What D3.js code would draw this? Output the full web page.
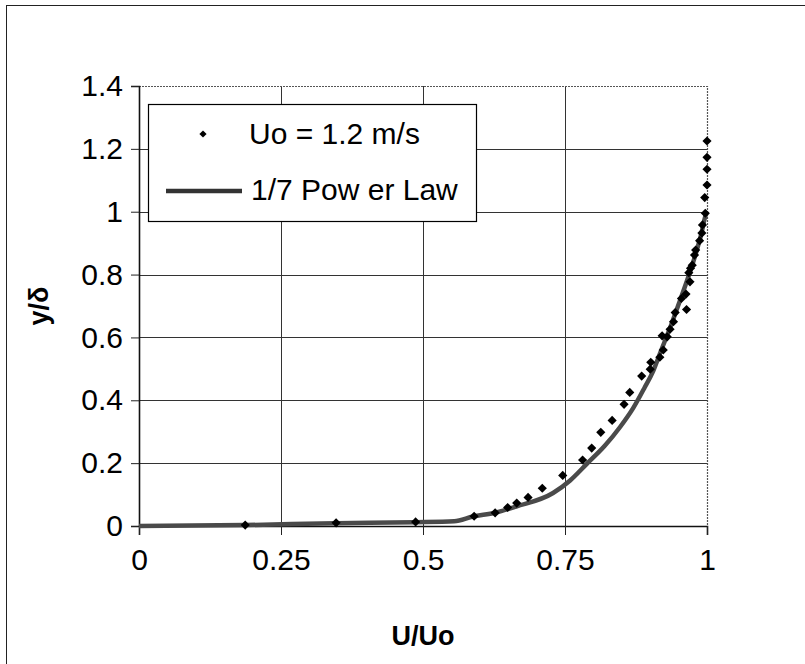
<!DOCTYPE html>
<html>
<head>
<meta charset="utf-8">
<script src="https://cdn.jsdelivr.net/npm/d3@7"></script>
<style>
  body { margin: 0; background: #fff; }
  svg { display: block; font-family: "Liberation Sans", Arial, sans-serif; }
</style>
</head>
<body>
<svg width="805" height="664"></svg>
<script>
// measured profile, Uo = 1.2 m/s
var measU = [1.0, 1.0, 1.0, 1.0, 0.996, 0.997, 0.992, 0.991, 0.987, 0.980, 0.978, 0.974, 0.971,
  0.968, 0.970, 0.963, 0.955, 0.964, 0.944, 0.941, 0.935, 0.921, 0.930, 0.923, 0.917, 0.901, 0.900, 0.885,
  0.864, 0.854, 0.833, 0.813, 0.797, 0.781, 0.746,
  0.710, 0.685, 0.665, 0.649, 0.627, 0.590,
  0.487, 0.347, 0.187];
var measY = [1.225, 1.173, 1.135, 1.085, 1.045, 0.995, 0.958, 0.932, 0.908, 0.878, 0.862, 0.830, 0.820,
  0.806, 0.777, 0.738, 0.724, 0.689, 0.679, 0.650, 0.626, 0.605, 0.602, 0.560, 0.537, 0.521, 0.499, 0.477,
  0.425, 0.387, 0.336, 0.298, 0.248, 0.210, 0.161,
  0.120, 0.091, 0.073, 0.059, 0.042, 0.031,
  0.013, 0.010, 0.003];

// 1/7 power law curve
var lawU = [0, 0.187, 0.347, 0.486, 0.555, 0.588, 0.627, 0.664, 0.729, 0.759, 0.788, 0.820, 0.847,
  0.870, 0.890, 0.905, 0.917, 0.938, 0.952, 0.970, 0.980, 0.990, 0.997, 1.0];
var lawY = [0, 0.003, 0.009, 0.012, 0.015, 0.030, 0.042, 0.062, 0.105, 0.145, 0.197, 0.255, 0.315,
  0.375, 0.440, 0.492, 0.548, 0.645, 0.715, 0.808, 0.865, 0.930, 0.985, 1.0];

var xTicks = [0, 0.25, 0.5, 0.75, 1];
var yTicks = [0, 0.2, 0.4, 0.6, 0.8, 1, 1.2, 1.4];

var svg = d3.select("svg");
var plotLeft = 139, plotRight = 707, plotTop = 86, plotBottom = 526;

var x = d3.scaleLinear().domain([0, 1]).range([plotLeft, plotRight]);
var y = d3.scaleLinear().domain([0, 1.4]).range([plotBottom, plotTop]);

// outer chart frame (only left/top edges are inside the picture)
svg.append("rect")
  .attr("x", 6.5).attr("y", 5.5)
  .attr("width", 900).attr("height", 900)
  .attr("fill", "none").attr("stroke", "#222").attr("stroke-width", 1);

// grid
var grid = svg.append("g").attr("stroke", "#333").attr("stroke-width", 1);
grid.selectAll(".h").data(yTicks.slice(1, -1)).enter().append("line")
  .attr("x1", plotLeft).attr("x2", plotRight)
  .attr("y1", function(d) { return Math.round(y(d)) + 0.5; })
  .attr("y2", function(d) { return Math.round(y(d)) + 0.5; });
grid.selectAll(".v").data(xTicks.slice(1, -1)).enter().append("line")
  .attr("y1", plotTop).attr("y2", plotBottom)
  .attr("x1", function(d) { return Math.round(x(d)) + 0.5; })
  .attr("x2", function(d) { return Math.round(x(d)) + 0.5; });

// plot border (dotted top/right)
svg.append("path")
  .attr("d", "M" + plotLeft + "," + (plotTop + 0.5) + "H" + (plotRight + 0.5) + "V" + plotBottom)
  .attr("fill", "none").attr("stroke", "#555").attr("stroke-width", 1.2)
  .attr("stroke-dasharray", "2,1");

// axes
var xAxis = d3.axisBottom(x).tickValues(xTicks).tickSize(9).tickPadding(14)
  .tickFormat(function(d) { return String(d); });
var gx = svg.append("g").attr("transform", "translate(0," + plotBottom + ")").call(xAxis);
var yAxis = d3.axisLeft(y).tickValues(yTicks).tickSize(8).tickPadding(8)
  .tickFormat(function(d) { return String(d); });
var gy = svg.append("g").attr("transform", "translate(" + plotLeft + ",0)").call(yAxis);

[gx, gy].forEach(function(g) {
  g.select(".domain").attr("stroke", "#111").attr("stroke-width", 1.6);
  g.selectAll(".tick line").attr("stroke", "#222");
  g.selectAll(".tick text")
    .attr("font-family", "Liberation Sans, Arial, sans-serif")
    .attr("font-size", "30px").attr("fill", "#000");
});

// power law line
var line = d3.line()
  .x(function(d) { return x(d[0]); })
  .y(function(d) { return y(d[1]); })
  .curve(d3.curveMonotoneX);
svg.append("path")
  .datum(d3.zip(lawU, lawY))
  .attr("d", line)
  .attr("fill", "none")
  .attr("stroke", "#4a4a4a")
  .attr("stroke-width", 4.5)
  .attr("stroke-linejoin", "round");

// measured points as diamonds
var diamond = d3.symbol().type(d3.symbolSquare).size(42);
svg.append("g").selectAll("path").data(d3.zip(measU, measY)).enter().append("path")
  .attr("d", diamond)
  .attr("transform", function(d) { return "translate(" + x(d[0]) + "," + y(d[1]) + ") rotate(45)"; })
  .attr("fill", "#000");

// axis titles
svg.append("text")
  .attr("x", (plotLeft + plotRight) / 2).attr("y", 645)
  .attr("text-anchor", "middle")
  .attr("font-size", "27px").attr("font-weight", "bold")
  .text("U/Uo");
svg.append("text")
  .attr("transform", "translate(48," + ((plotTop + plotBottom) / 2) + ") rotate(-90)")
  .attr("text-anchor", "middle")
  .attr("font-size", "27px").attr("font-weight", "bold")
  .text("y/δ");

// legend
var legend = svg.append("g");
legend.append("rect")
  .attr("x", 148.5).attr("y", 104.5).attr("width", 328).attr("height", 117)
  .attr("fill", "#fff").attr("stroke", "#000").attr("stroke-width", 1.2);
legend.append("path")
  .attr("d", d3.symbol().type(d3.symbolSquare).size(26))
  .attr("transform", "translate(203,134) rotate(45)")
  .attr("fill", "#000");
legend.append("text")
  .attr("x", 249).attr("y", 144)
  .attr("font-size", "30px")
  .text("Uo = 1.2 m/s");
legend.append("line")
  .attr("x1", 166).attr("x2", 242).attr("y1", 191).attr("y2", 191)
  .attr("stroke", "#333").attr("stroke-width", 4.5);
legend.append("text")
  .attr("x", 251).attr("y", 200)
  .attr("font-size", "30px")
  .text("1/7 Pow er Law");
</script>
</body>
</html>
